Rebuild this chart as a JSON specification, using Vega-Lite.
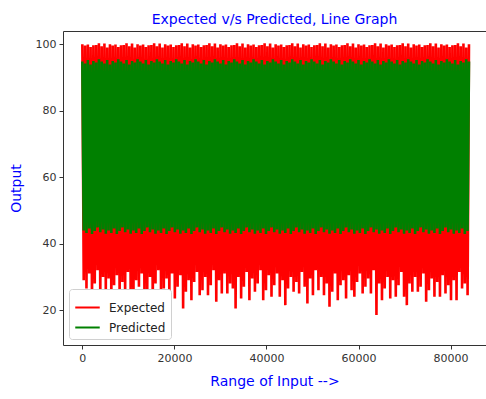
{
  "$schema": "https://vega.github.io/schema/vega-lite/v6.json",
  "width": 423,
  "height": 314,
  "autosize": {"type": "none"},
  "padding": {"left": 63, "top": 31, "right": 0, "bottom": 54},
  "background": "white",
  "title": {"text": "Expected v/s Predicted, Line Graph", "color": "blue", "fontSize": 14, "fontWeight": "normal", "font": "DejaVu Sans", "offset": 4},
  "data": {"values": [
{"x":0,"e":100.0,"p":94.8},{"x":300,"e":29,"p":44.0},
{"x":600,"e":99.6,"p":94.2},{"x":900,"e":26.5,"p":43.2},
{"x":1200,"e":99.9,"p":95.3},{"x":1500,"e":31,"p":44.6},
{"x":1800,"e":99.2,"p":93.9},{"x":2100,"e":23,"p":42.9},
{"x":2400,"e":99.7,"p":95.0},{"x":2700,"e":28,"p":43.8},
{"x":3000,"e":99.8,"p":94.5},{"x":3300,"e":32,"p":44.9},
{"x":3600,"e":100.3,"p":95.5},{"x":3900,"e":24,"p":43.4},
{"x":4200,"e":99.4,"p":94.8},{"x":4500,"e":30,"p":44.3},
{"x":4800,"e":100.2,"p":94.2},{"x":5100,"e":25.5,"p":43.0},
{"x":5400,"e":99.0,"p":95.3},{"x":5700,"e":29.5,"p":44.0},
{"x":6000,"e":100.0,"p":93.9},{"x":6300,"e":23,"p":43.2},
{"x":6600,"e":99.6,"p":95.0},{"x":6900,"e":27.5,"p":44.6},
{"x":7200,"e":99.9,"p":94.5},{"x":7500,"e":30.5,"p":42.9},
{"x":7800,"e":99.2,"p":95.5},{"x":8100,"e":24.5,"p":43.8},
{"x":8400,"e":99.7,"p":94.8},{"x":8700,"e":28.5,"p":44.9},
{"x":9000,"e":99.8,"p":94.2},{"x":9300,"e":25,"p":43.4},
{"x":9600,"e":100.3,"p":95.3},{"x":9900,"e":31.5,"p":44.3},
{"x":10200,"e":99.4,"p":93.9},{"x":10500,"e":26,"p":43.0},
{"x":10800,"e":100.2,"p":95.0},{"x":11100,"e":22,"p":44.0},
{"x":11400,"e":99.0,"p":94.5},{"x":11700,"e":29,"p":43.2},
{"x":12000,"e":100.0,"p":95.5},{"x":12300,"e":27,"p":44.6},
{"x":12600,"e":99.6,"p":94.8},{"x":12900,"e":31,"p":42.9},
{"x":13200,"e":99.9,"p":94.2},{"x":13500,"e":23.5,"p":43.8},
{"x":13800,"e":99.2,"p":95.3},{"x":14100,"e":25,"p":44.9},
{"x":14400,"e":99.7,"p":93.9},{"x":14700,"e":30,"p":43.4},
{"x":15000,"e":99.8,"p":95.0},{"x":15300,"e":21.5,"p":44.3},
{"x":15600,"e":100.3,"p":94.5},{"x":15900,"e":28,"p":43.0},
{"x":16200,"e":99.4,"p":95.5},{"x":16500,"e":32,"p":44.0},
{"x":16800,"e":100.2,"p":94.8},{"x":17100,"e":25.5,"p":43.2},
{"x":17400,"e":99.0,"p":94.2},{"x":17700,"e":26.5,"p":44.6},
{"x":18000,"e":100.0,"p":95.3},{"x":18300,"e":29.5,"p":42.9},
{"x":18600,"e":99.6,"p":93.9},{"x":18900,"e":24,"p":43.8},
{"x":19200,"e":99.9,"p":95.0},{"x":19500,"e":31,"p":44.9},
{"x":19800,"e":99.2,"p":94.5},{"x":20100,"e":23.5,"p":43.4},
{"x":20400,"e":99.7,"p":95.5},{"x":20700,"e":27,"p":44.3},
{"x":21000,"e":99.8,"p":94.8},{"x":21300,"e":30.5,"p":43.0},
{"x":21600,"e":100.3,"p":94.2},{"x":21900,"e":20.5,"p":44.0},
{"x":22200,"e":99.4,"p":95.3},{"x":22500,"e":25.5,"p":43.2},
{"x":22800,"e":100.2,"p":93.9},{"x":23100,"e":29,"p":44.6},
{"x":23400,"e":99.0,"p":95.0},{"x":23700,"e":23,"p":42.9},
{"x":24000,"e":100.0,"p":94.5},{"x":24300,"e":28.5,"p":43.8},
{"x":24600,"e":99.6,"p":95.5},{"x":24900,"e":31.5,"p":44.9},
{"x":25200,"e":99.9,"p":94.8},{"x":25500,"e":24.5,"p":43.4},
{"x":25800,"e":99.2,"p":94.2},{"x":26100,"e":26,"p":44.3},
{"x":26400,"e":99.7,"p":95.3},{"x":26700,"e":30,"p":43.0},
{"x":27000,"e":99.8,"p":93.9},{"x":27300,"e":24.5,"p":44.0},
{"x":27600,"e":100.3,"p":95.0},{"x":27900,"e":27.5,"p":43.2},
{"x":28200,"e":99.4,"p":94.5},{"x":28500,"e":32,"p":44.6},
{"x":28800,"e":100.2,"p":95.5},{"x":29100,"e":22.5,"p":42.9},
{"x":29400,"e":99.0,"p":94.8},{"x":29700,"e":29,"p":43.8},
{"x":30000,"e":100.0,"p":94.2},{"x":30300,"e":25,"p":44.9},
{"x":30600,"e":99.6,"p":95.3},{"x":30900,"e":31,"p":43.4},
{"x":31200,"e":99.9,"p":93.9},{"x":31500,"e":25,"p":44.3},
{"x":31800,"e":99.2,"p":95.0},{"x":32100,"e":28,"p":43.0},
{"x":32400,"e":99.7,"p":94.5},{"x":32700,"e":26.5,"p":44.0},
{"x":33000,"e":99.8,"p":95.5},{"x":33300,"e":20.5,"p":43.2},
{"x":33600,"e":100.3,"p":94.8},{"x":33900,"e":30,"p":44.6},
{"x":34200,"e":99.4,"p":94.2},{"x":34500,"e":23.5,"p":42.9},
{"x":34800,"e":100.2,"p":95.3},{"x":35100,"e":27,"p":43.8},
{"x":35400,"e":99.0,"p":93.9},{"x":35700,"e":31.5,"p":44.9},
{"x":36000,"e":100.0,"p":95.0},{"x":36300,"e":23,"p":43.4},
{"x":36600,"e":99.6,"p":94.5},{"x":36900,"e":29.5,"p":44.3},
{"x":37200,"e":99.9,"p":95.5},{"x":37500,"e":25.5,"p":43.0},
{"x":37800,"e":99.2,"p":94.8},{"x":38100,"e":28,"p":44.0},
{"x":38400,"e":99.7,"p":94.2},{"x":38700,"e":32,"p":43.2},
{"x":39000,"e":99.8,"p":95.3},{"x":39300,"e":23,"p":44.6},
{"x":39600,"e":100.3,"p":93.9},{"x":39900,"e":26,"p":42.9},
{"x":40200,"e":99.4,"p":95.0},{"x":40500,"e":30.5,"p":43.8},
{"x":40800,"e":100.2,"p":94.5},{"x":41100,"e":24,"p":44.9},
{"x":41400,"e":99.0,"p":95.5},{"x":41700,"e":27.5,"p":43.4},
{"x":42000,"e":100.0,"p":94.8},{"x":42300,"e":31,"p":44.3},
{"x":42600,"e":99.6,"p":94.2},{"x":42900,"e":24,"p":43.0},
{"x":43200,"e":99.9,"p":95.3},{"x":43500,"e":29,"p":44.0},
{"x":43800,"e":99.2,"p":93.9},{"x":44100,"e":21.5,"p":43.2},
{"x":44400,"e":99.7,"p":95.0},{"x":44700,"e":26.5,"p":44.6},
{"x":45000,"e":99.8,"p":94.5},{"x":45300,"e":30,"p":42.9},
{"x":45600,"e":100.3,"p":95.5},{"x":45900,"e":25.5,"p":43.8},
{"x":46200,"e":99.4,"p":94.8},{"x":46500,"e":28.5,"p":44.9},
{"x":46800,"e":100.2,"p":94.2},{"x":47100,"e":25,"p":43.4},
{"x":47400,"e":99.0,"p":95.3},{"x":47700,"e":31.5,"p":44.3},
{"x":48000,"e":100.0,"p":93.9},{"x":48300,"e":27,"p":43.0},
{"x":48600,"e":99.6,"p":95.0},{"x":48900,"e":22,"p":44.0},
{"x":49200,"e":99.9,"p":94.5},{"x":49500,"e":29.5,"p":43.2},
{"x":49800,"e":99.2,"p":95.5},{"x":50100,"e":24.5,"p":44.6},
{"x":50400,"e":99.7,"p":94.8},{"x":50700,"e":32,"p":42.9},
{"x":51000,"e":99.8,"p":94.2},{"x":51300,"e":26,"p":43.8},
{"x":51600,"e":100.3,"p":95.3},{"x":51900,"e":30,"p":44.9},
{"x":52200,"e":99.4,"p":93.9},{"x":52500,"e":24.5,"p":43.4},
{"x":52800,"e":100.2,"p":95.0},{"x":53100,"e":28,"p":44.3},
{"x":53400,"e":99.0,"p":94.5},{"x":53700,"e":21,"p":43.0},
{"x":54000,"e":100.0,"p":95.5},{"x":54300,"e":25.5,"p":44.0},
{"x":54600,"e":99.6,"p":94.8},{"x":54900,"e":31,"p":43.2},
{"x":55200,"e":99.9,"p":94.2},{"x":55500,"e":23,"p":44.6},
{"x":55800,"e":99.2,"p":95.3},{"x":56100,"e":27.5,"p":42.9},
{"x":56400,"e":99.7,"p":93.9},{"x":56700,"e":29,"p":43.8},
{"x":57000,"e":99.8,"p":95.0},{"x":57300,"e":23.5,"p":44.9},
{"x":57600,"e":100.3,"p":94.5},{"x":57900,"e":30.5,"p":43.4},
{"x":58200,"e":99.4,"p":95.5},{"x":58500,"e":26,"p":44.3},
{"x":58800,"e":100.2,"p":94.8},{"x":59100,"e":24,"p":43.0},
{"x":59400,"e":99.0,"p":94.2},{"x":59700,"e":28.5,"p":44.0},
{"x":60000,"e":100.0,"p":95.3},{"x":60300,"e":31,"p":43.2},
{"x":60600,"e":99.6,"p":93.9},{"x":60900,"e":25,"p":44.6},
{"x":61200,"e":99.9,"p":95.0},{"x":61500,"e":27,"p":42.9},
{"x":61800,"e":99.2,"p":94.5},{"x":62100,"e":29.5,"p":43.8},
{"x":62400,"e":99.7,"p":95.5},{"x":62700,"e":25,"p":44.9},
{"x":63000,"e":99.8,"p":94.8},{"x":63300,"e":32,"p":43.4},
{"x":63600,"e":100.3,"p":94.2},{"x":63900,"e":18.5,"p":44.3},
{"x":64200,"e":99.4,"p":95.3},{"x":64500,"e":28,"p":43.0},
{"x":64800,"e":100.2,"p":93.9},{"x":65100,"e":23,"p":44.0},
{"x":65400,"e":99.0,"p":95.0},{"x":65700,"e":26.5,"p":43.2},
{"x":66000,"e":100.0,"p":94.5},{"x":66300,"e":30,"p":44.6},
{"x":66600,"e":99.6,"p":95.5},{"x":66900,"e":23.5,"p":42.9},
{"x":67200,"e":99.9,"p":94.8},{"x":67500,"e":29,"p":43.8},
{"x":67800,"e":99.2,"p":94.2},{"x":68100,"e":24,"p":44.9},
{"x":68400,"e":99.7,"p":95.3},{"x":68700,"e":27.5,"p":43.4},
{"x":69000,"e":99.8,"p":93.9},{"x":69300,"e":31.5,"p":44.3},
{"x":69600,"e":100.3,"p":95.0},{"x":69900,"e":24,"p":43.0},
{"x":70200,"e":99.4,"p":94.5},{"x":70500,"e":21.5,"p":44.0},
{"x":70800,"e":100.2,"p":95.5},{"x":71100,"e":28,"p":43.2},
{"x":71400,"e":99.0,"p":94.8},{"x":71700,"e":25.5,"p":44.6},
{"x":72000,"e":100.0,"p":94.2},{"x":72300,"e":30,"p":42.9},
{"x":72600,"e":99.6,"p":95.3},{"x":72900,"e":25.5,"p":43.8},
{"x":73200,"e":99.9,"p":93.9},{"x":73500,"e":27,"p":44.9},
{"x":73800,"e":99.2,"p":95.0},{"x":74100,"e":31,"p":43.4},
{"x":74400,"e":99.7,"p":94.5},{"x":74700,"e":22.5,"p":44.3},
{"x":75000,"e":99.8,"p":95.5},{"x":75300,"e":26,"p":43.0},
{"x":75600,"e":100.3,"p":94.8},{"x":75900,"e":29.5,"p":44.0},
{"x":76200,"e":99.4,"p":94.2},{"x":76500,"e":24,"p":43.2},
{"x":76800,"e":100.2,"p":95.3},{"x":77100,"e":28.5,"p":44.6},
{"x":77400,"e":99.0,"p":93.9},{"x":77700,"e":24,"p":42.9},
{"x":78000,"e":100.0,"p":95.0},{"x":78300,"e":30.5,"p":43.8},
{"x":78600,"e":99.6,"p":94.5},{"x":78900,"e":25,"p":44.9},
{"x":79200,"e":99.9,"p":95.5},{"x":79500,"e":27.5,"p":43.4},
{"x":79800,"e":99.2,"p":94.8},{"x":80100,"e":23,"p":44.3},
{"x":80400,"e":99.7,"p":94.2},{"x":80700,"e":29,"p":43.0},
{"x":81000,"e":99.8,"p":95.3},{"x":81300,"e":23,"p":44.0},
{"x":81600,"e":100.3,"p":93.9},{"x":81900,"e":31.5,"p":43.2},
{"x":82200,"e":99.4,"p":95.0},{"x":82500,"e":26.5,"p":44.6},
{"x":82800,"e":100.2,"p":94.5},{"x":83100,"e":28,"p":42.9},
{"x":83400,"e":99.0,"p":95.5},{"x":83700,"e":24.5,"p":43.8},
{"x":84000,"e":100.0,"p":94.8}
  ]},
  "encoding": {
    "x": {"field": "x", "type": "quantitative",
      "scale": {"domain": [-4200, 87700], "nice": false, "zero": false},
      "axis": {"title": "Range of Input -->", "values": [0, 20000, 40000, 60000, 80000], "format": "d", "titlePadding": 11}},
    "color": {"datum": "Expected", "type": "nominal",
      "scale": {"domain": ["Expected", "Predicted"], "range": ["#ff0000", "#008000"]},
      "legend": {"title": null, "orient": "bottom-left", "offset": 6, "symbolType": "stroke", "symbolSize": 600, "symbolStrokeWidth": 2, "fillColor": "white", "strokeColor": "#d0d0d0", "cornerRadius": 3, "padding": 5, "labelFontSize": 12, "labelFont": "DejaVu Sans", "labelColor": "#222", "labelOffset": 8, "rowPadding": 0}}
  },
  "layer": [
    {"mark": {"type": "line", "strokeWidth": 2.6, "color": "#ff0000", "strokeJoin": "bevel"},
     "encoding": {"y": {"field": "e", "type": "quantitative",
       "scale": {"domain": [9.5, 104], "nice": false, "zero": false},
       "axis": {"title": "Output", "values": [20, 40, 60, 80, 100], "titlePadding": 12}}}},
    {"mark": {"type": "line", "strokeWidth": 2.6, "color": "#008000", "strokeJoin": "bevel"},
     "encoding": {"y": {"field": "p", "type": "quantitative"}, "color": {"datum": "Predicted", "type": "nominal"}}}
  ],
  "config": {
    "view": {"stroke": "#333", "strokeWidth": 1},
    "axis": {"domain": false, "grid": false, "tickColor": "#333", "tickSize": 4, "labelColor": "#333", "labelFont": "DejaVu Sans", "labelFontSize": 11, "titleColor": "blue", "titleFont": "DejaVu Sans", "titleFontSize": 14, "titleFontWeight": "normal", "labelPadding": 3}
  }
}
